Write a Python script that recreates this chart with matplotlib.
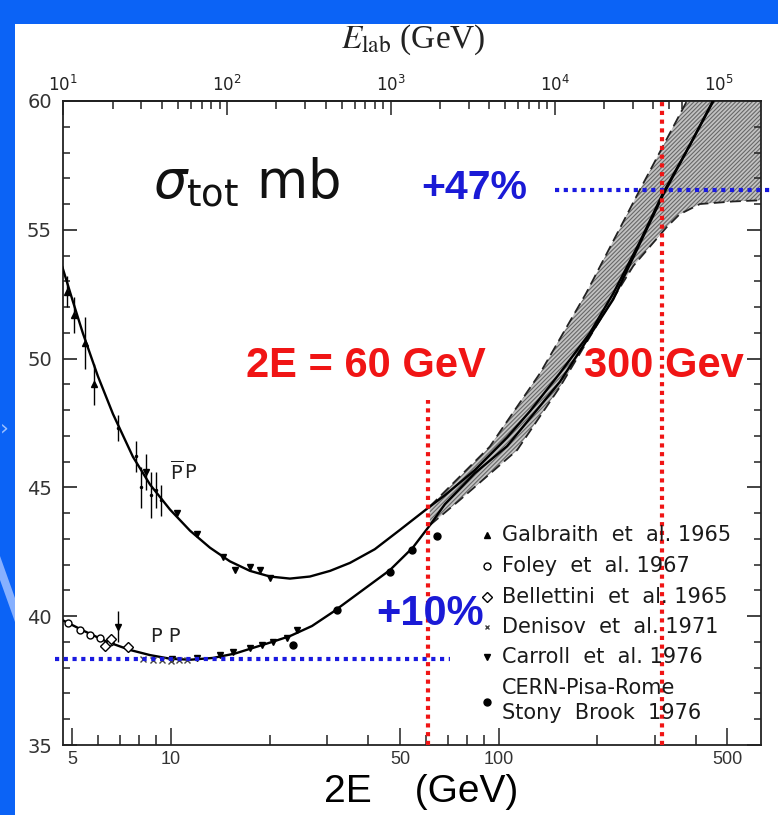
import numpy as np
import matplotlib.pyplot as plt
from matplotlib.patches import Rectangle, Polygon
from matplotlib.ticker import FixedLocator, NullFormatter, LogLocator

plt.rcParams['mathtext.fontset'] = 'dejavusans'
plt.rcParams['hatch.linewidth'] = 0.8

W, H = 778, 815

# fitted curves: 2E (GeV) vs sigma_tot (mb)
pbar_e = [4.66, 5.02, 5.38, 5.98, 6.65, 7.65, 8.63, 9.93, 11.43, 13.15, 15.13, 17.42,
          20.05, 23.07, 26.55, 30.6, 35.2, 41.9, 50.0, 61.6, 68.5, 84.6, 106.2, 124.8,
          154, 190, 224, 270, 318, 384, 453]
pbar_s = [53.55, 52.21, 50.99, 49.32, 47.85, 46.19, 45.11, 44.14, 43.32, 42.66, 42.13, 41.76,
          41.54, 41.46, 41.54, 41.76, 42.07, 42.6, 43.35, 44.25, 44.69, 45.67, 46.94, 47.96,
          49.44, 50.99, 52.53, 54.53, 56.43, 58.29, 60.04]
pp_e = [4.66, 5.46, 6.37, 7.49, 8.63, 9.93, 11.43, 13.43, 15.68, 17.8, 20.35, 23.1,
        26.95, 31.2, 37.8, 46.6, 54.8, 61.8, 68.6, 84.6, 106.2, 154, 224, 318, 453]
pp_s = [39.85, 39.41, 39.01, 38.69, 38.49, 38.35, 38.31, 38.38, 38.55, 38.77, 39.0, 39.23,
        39.62, 40.16, 40.94, 41.79, 42.67, 43.54, 44.35, 45.55, 46.6, 49.1, 52.3, 56.35, 60.0]

# prediction band
band_up_e = [61.6, 94, 134, 185, 270, 376, 480, 640]
band_up_s = [44.25, 46.58, 49.44, 52.53, 56.55, 60.0, 62.5, 65.0]
band_lo_e = [61.8, 76, 114, 154, 204, 258, 326, 357, 412, 520, 643]
band_lo_s = [43.54, 44.5, 46.45, 48.9, 51.5, 53.6, 55.1, 55.6, 56.0, 56.1, 56.15]

# data points
galb_e = [4.8, 5.05, 5.45, 5.8]
galb_s = [52.6, 51.7, 50.6, 49.0]
galb_err = [0.6, 0.7, 1.0, 0.8]
pbar_err_e = [6.9, 7.8, 8.1, 8.4, 8.7, 9.0, 9.3]
pbar_err_s = [47.3, 46.2, 45.0, 45.6, 44.7, 44.9, 44.5]
pbar_err_d = [0.5, 0.6, 0.8, 0.7, 0.9, 0.7, 0.6]
carr_pbar_e = [8.4, 10.4, 12.0, 14.4, 15.7, 17.4, 18.7, 20.0]
carr_pbar_s = [45.6, 44.0, 43.2, 42.3, 41.8, 41.9, 41.8, 41.5]
carr_pp_e = [6.9, 10.1, 12.0, 14.1, 15.5, 17.4, 19.0, 20.5, 22.6, 24.2]
carr_pp_s = [39.6, 38.34, 38.37, 38.5, 38.6, 38.77, 38.9, 39.0, 39.15, 39.45]
foley_e = [4.85, 5.27, 5.66, 6.08, 6.51]
foley_s = [39.73, 39.46, 39.27, 39.15, 39.0]
bell_e = [6.3, 6.55, 7.4]
bell_s = [38.85, 39.1, 38.8]
denis_e = [8.2, 8.8, 9.4, 10.0, 10.6, 11.2]
denis_s = [38.35, 38.3, 38.3, 38.25, 38.3, 38.3]
cern_e = [23.5, 32.1, 46.6, 54.4, 64.8]
cern_s = [38.9, 40.25, 41.73, 42.57, 43.1]

x_major = [5, 10, 50, 100, 500]
x_labels = ['5', '10', '50', '100', '500']
x_minor = [6, 7, 8, 9, 20, 30, 40, 60, 70, 80, 90, 200, 300, 400]
y_major = [35, 40, 45, 50, 55, 60]
y_minor = [v for v in range(35, 61) if v % 5]

legend_labels = ['Galbraith  et  al. 1965', 'Foley  et  al. 1967', 'Bellettini  et  al. 1965',
                 'Denisov  et  al. 1971', 'Carroll  et  al. 1976']


def fx(x):
    return x / W


def fy(y):
    return 1 - y / H


fig = plt.figure(figsize=(W / 100, H / 100), dpi=100, facecolor='#0b63f6')
fig.patches.append(Rectangle((fx(15), 0), 1, fy(24), transform=fig.transFigure,
                             facecolor='white', edgecolor='none', zorder=-2))
fig.patches.append(Polygon([(0, fy(556)), (0, fy(580)), (fx(15), fy(622)), (fx(15), fy(598))],
                           closed=True, transform=fig.transFigure,
                           facecolor='#86b0ff', edgecolor='none', zorder=-2))
fig.text(fx(0), fy(428), '›', color='#9cc0ff', fontsize=16, va='center', ha='left')

ax = fig.add_axes([fx(63), 1 - 745 / H, 698 / W, 644 / H])
ax.set_xscale('log')
ax.set_xlim(4.68, 633)
ax.set_ylim(35, 60)

# band
ax.fill(np.concatenate([band_up_e, band_lo_e[::-1]]),
        np.concatenate([band_up_s, band_lo_s[::-1]]),
        facecolor='#c2c2c2', edgecolor='#686868', lw=0, hatch='////////', zorder=1)
ax.plot(band_up_e, band_up_s, color='#222', lw=1.3, ls=(0, (6, 3)), zorder=3)
ax.plot(band_lo_e, band_lo_s, color='#222', lw=1.3, ls=(0, (6, 3)), zorder=3)

ax.plot(pbar_e, pbar_s, color='black', lw=1.7, zorder=4)
ax.plot(pp_e, pp_s, color='black', lw=1.7, zorder=4)

# points
ax.errorbar(galb_e, galb_s, yerr=galb_err, fmt='^', color='black', ms=5, lw=1, zorder=5)
ax.errorbar(pbar_err_e, pbar_err_s, yerr=pbar_err_d, fmt='.', color='black', ms=3, lw=1, zorder=5)
ax.plot(carr_pbar_e, carr_pbar_s, 'v', color='black', ms=5, zorder=5)
ax.plot(carr_pp_e, carr_pp_s, 'v', color='black', ms=5, zorder=5)
ax.errorbar(carr_pp_e[:1], carr_pp_s[:1], yerr=[0.6], fmt='none', ecolor='black', lw=1, zorder=5)
ax.plot(foley_e, foley_s, 'o', mfc='white', mec='black', ms=5, mew=1, zorder=5)
ax.plot(bell_e, bell_s, 'D', mfc='white', mec='black', ms=5, mew=1, zorder=5)
ax.plot(denis_e, denis_s, 'x', color='#444', ms=4, mew=1, zorder=5)
ax.plot(cern_e, cern_s, 'o', color='black', ms=5, zorder=5)

# dotted guides
dot = dict(lw=3, ls=(0, (1, 1.1)), dash_capstyle='butt', clip_on=False, zorder=6)
ax.plot([4.42, 71], [38.35, 38.35], color='#1a1ae0', **dot)
ax.plot([149, 684], [56.55, 56.55], color='#1a1ae0', **dot)
ax.plot([61, 61], [35, 48.4], color='#f01515', **dot)
ax.plot([315, 315], [35, 60], color='#f01515', **dot)

# axes styling
for s in ax.spines.values():
    s.set_color('#222')
    s.set_linewidth(1.3)
ax.xaxis.set_major_locator(FixedLocator(x_major))
ax.set_xticklabels(x_labels)
ax.xaxis.set_minor_locator(FixedLocator(x_minor))
ax.xaxis.set_minor_formatter(NullFormatter())
ax.yaxis.set_major_locator(FixedLocator(y_major))
ax.yaxis.set_minor_locator(FixedLocator(y_minor))
ax.tick_params(which='both', direction='in', right=True, color='#222', labelcolor='#333')
ax.tick_params(axis='y', which='major', length=10, width=1.2, labelsize=14, pad=8)
ax.tick_params(axis='y', which='minor', length=5, width=1.1)
ax.tick_params(axis='x', which='major', length=12, width=1.1, labelsize=13, pad=4)
ax.tick_params(axis='x', which='minor', length=7, width=1.1)
for lab in ax.get_xticklabels():
    lab.set_family('Liberation Sans')


def to_elab(e2):
    e2 = np.asarray(e2, float)
    return np.clip(e2, 1e-6, None) ** 2 / 2.2


def to_2e(el):
    el = np.asarray(el, float)
    return np.sqrt(np.clip(el, 1e-9, None) * 2.2)


top = ax.secondary_xaxis('top', functions=(to_elab, to_2e))
top.set_xticks([1e1, 1e2, 1e3, 1e4, 1e5])
top.xaxis.set_minor_locator(LogLocator(base=10, subs=range(2, 10)))
top.xaxis.set_minor_formatter(NullFormatter())
top.tick_params(which='both', direction='in', color='#222', labelcolor='#222')
top.tick_params(which='major', length=10, width=1.1, labelsize=12, pad=4)
top.tick_params(which='minor', length=6, width=1.1)
top.spines['top'].set_linewidth(1.3)

# labels
fig.text(fx(413), fy(40), r'$E_{\rm lab}$ (GeV)', fontsize=24, family='Liberation Serif',
         math_fontfamily='stix', ha='center', va='center', color='#222')
fig.text(fx(421), fy(792), '2E    (GeV)', fontsize=28, family='Liberation Sans',
         ha='center', va='center', color='black')
fig.text(fx(153), fy(198), r'$\sigma_{\rm tot}$ mb', fontsize=38, ha='left',
         va='baseline', color='#111')
fig.text(fx(421), fy(188), '+47%', fontsize=29.5, fontweight='bold', family='Liberation Sans',
         color='#1a1ad6', ha='left', va='center')
fig.text(fx(430), fy(614), '+10%', fontsize=30, fontweight='bold', family='Liberation Sans',
         color='#1a1ad6', ha='center', va='center')
fig.text(fx(366), fy(366), '2E = 60 GeV', fontsize=30, fontweight='bold', family='Liberation Sans',
         color='#f01515', ha='center', va='center')
fig.text(fx(664), fy(366), '300 Gev', fontsize=30, fontweight='bold', family='Liberation Sans',
         color='#f01515', ha='center', va='center')
fig.text(fx(184), fy(472), r'$\overline{\mathrm{P}}\,\mathrm{P}$', fontsize=14, color='#222',
         ha='center', va='center')
fig.text(fx(166), fy(637), r'P P', fontsize=14, color='#222', ha='center', va='center')

# legend
leg_y = [535, 566, 597, 627, 657]
leg_m = [dict(marker='^', color='black', ms=5),
         dict(marker='o', mfc='white', mec='black', ms=5, mew=1),
         dict(marker='D', mfc='white', mec='black', ms=5, mew=1),
         dict(marker='x', color='#444', ms=3, mew=1),
         dict(marker='v', color='black', ms=5)]
for yy, lab, m in zip(leg_y, legend_labels, leg_m):
    ax.plot([fx(487)], [fy(yy)], transform=fig.transFigure, clip_on=False, ls='none', zorder=7, **m)
    fig.text(fx(502), fy(yy), lab, fontsize=15, color='#1a1a1a', ha='left', va='center')
ax.plot([fx(487)], [fy(702)], 'o', color='black', ms=5, transform=fig.transFigure,
        clip_on=False, zorder=7)
fig.text(fx(502), fy(688), 'CERN-Pisa-Rome', fontsize=15, color='#1a1a1a', ha='left', va='center')
fig.text(fx(502), fy(713), 'Stony  Brook  1976', fontsize=15, color='#1a1a1a', ha='left', va='center')

fig.savefig('out.png', dpi=100, facecolor=fig.get_facecolor())
